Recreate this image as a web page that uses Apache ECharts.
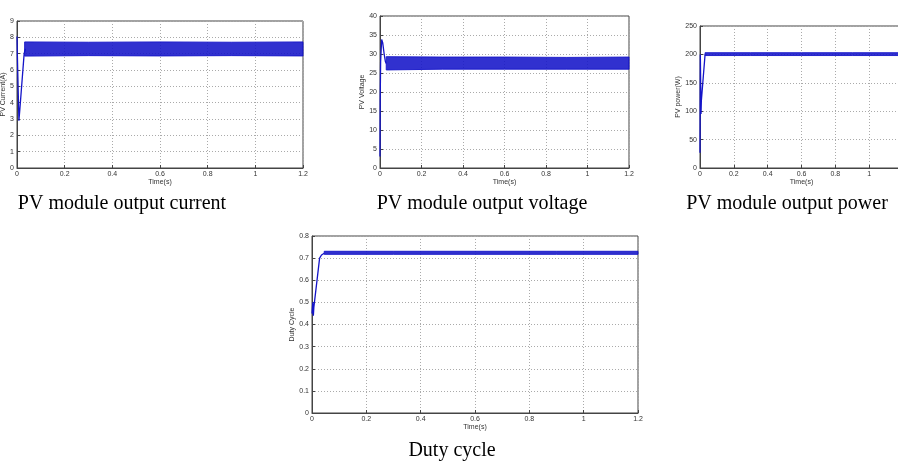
<!DOCTYPE html>
<html>
<head>
<meta charset="utf-8">
<script src="https://cdn.jsdelivr.net/npm/echarts@6/dist/echarts.min.js"></script>
<style>
  html, body { margin: 0; padding: 0; background: #fff; }
  #main { width: 898px; height: 472px; }
</style>
</head>
<body>
<div id="main"></div>
<script>
// PV current (A)
const currentTime = [0, 0.002, 0.008, 0.012, 0.03, 0.035]
const currentValue = [8.05, 6.6, 2.9, 3.6, 7.0, 7.3]
const currentBandTime = [0.032, 0.3, 0.6, 0.9, 1.2]
const currentUpper = [7.72, 7.7, 7.72, 7.7, 7.72]
const currentLower = [6.85, 6.88, 6.86, 6.88, 6.86]

// PV voltage (V)
const voltageTime = [0, 0.001, 0.003, 0.008, 0.013, 0.02, 0.026, 0.03]
const voltageValue = [3, 18, 28, 33.8, 33, 30, 28, 27.5]
const voltageBandTime = [0.03, 0.3, 0.6, 0.9, 1.2]
const voltageUpper = [29.3, 29.2, 29.2, 29.1, 29.2]
const voltageLower = [25.8, 26.0, 26.0, 26.0, 26.0]

// PV power (W)
const powerTime = [0, 0.002, 0.006, 0.008, 0.03]
const powerValue = [27, 200, 95, 118, 200]
const powerBandTime = [0.03, 0.3, 0.6, 0.9, 1.2]
const powerUpper = [203, 203, 203, 203, 203]
const powerLower = [198, 198, 198, 198, 198]

// Duty cycle
const dutyTime = [0, 0.003, 0.005, 0.007, 0.028, 0.035, 0.045]
const dutyValue = [0.45, 0.50, 0.44, 0.48, 0.70, 0.714, 0.722]
const dutyBandTime = [0.045, 0.3, 0.6, 0.9, 1.2]
const dutyUpper = [0.731, 0.731, 0.731, 0.731, 0.731]
const dutyLower = [0.717, 0.717, 0.717, 0.717, 0.717]

const timeTicks = { min: 0, max: 1.2, interval: 0.2 }

const panels = [
  { grid: { left: 17, top: 21, width: 286, height: 147 }, y: { min: 0, max: 9, interval: 1 },
    yName: 'PV Current(A)', yGap: 7, xGap: 9,
    t: currentTime, v: currentValue, bt: currentBandTime, up: currentUpper, lo: currentLower },
  { grid: { left: 380, top: 16, width: 249, height: 152 }, y: { min: 0, max: 40, interval: 5 },
    yName: 'PV Voltage', yGap: 9, xGap: 8,
    t: voltageTime, v: voltageValue, bt: voltageBandTime, up: voltageUpper, lo: voltageLower },
  // this panel is cut off at the right edge of the picture
  { grid: { left: 700, top: 26, width: 203, height: 142 }, y: { min: 0, max: 250, interval: 50 },
    yName: 'PV power(W)', yGap: 12, xGap: 9,
    t: powerTime, v: powerValue, bt: powerBandTime, up: powerUpper, lo: powerLower },
  { grid: { left: 312, top: 236, width: 326, height: 177 }, y: { min: 0, max: 0.8, interval: 0.1 },
    yName: 'Duty Cycle', yGap: 16, xGap: 11,
    t: dutyTime, v: dutyValue, bt: dutyBandTime, up: dutyUpper, lo: dutyLower }
]

const axisColor = '#444'
const blue = '#1414c8'

const grids = []
const xAxes = []
const yAxes = []
const series = []

panels.forEach(function(p, i) {
  grids.push(Object.assign({
    show: true, borderColor: axisColor, borderWidth: 1, backgroundColor: '#fff',
    outerBoundsMode: 'none', containLabel: false
  }, p.grid))
  const common = {
    gridIndex: i,
    type: 'value',
    nameLocation: 'middle',
    nameTextStyle: { fontSize: 7, color: '#333', fontFamily: 'Liberation Sans' },
    axisLine: { show: true, lineStyle: { color: axisColor, width: 1 } },
    axisTick: { show: true, inside: true, length: 3, lineStyle: { color: axisColor } },
    axisLabel: { fontSize: 7, color: '#333', margin: 3, fontFamily: 'Liberation Sans' },
    splitLine: { show: true, lineStyle: { color: '#aaa', type: [1, 2], width: 1 } }
  }
  xAxes.push(Object.assign({}, common, timeTicks, { name: 'Time(s)', nameGap: p.xGap }))
  yAxes.push(Object.assign({}, common, p.y, { name: p.yName, nameGap: p.yGap }))

  // start-up transient
  series.push({
    type: 'line',
    xAxisIndex: i,
    yAxisIndex: i,
    symbol: 'none',
    lineStyle: { color: blue, width: 1.3 },
    data: p.t.map(function(t, k) { return [t, p.v[k]] })
  })

  // steady-state ripple band between lower and upper envelope
  series.push({
    type: 'custom',
    xAxisIndex: i,
    yAxisIndex: i,
    encode: { x: 0, y: [1, 2] },
    data: p.bt.map(function(t, k) { return [t, p.lo[k], p.up[k]] }),
    renderItem: function(params, api) {
      if (params.dataIndex !== 0) return null
      const pts = []
      p.bt.forEach(function(t, k) { pts.push(api.coord([t, p.up[k]])) })
      for (let k = p.bt.length - 1; k >= 0; k--) pts.push(api.coord([p.bt[k], p.lo[k]]))
      return {
        type: 'polygon',
        shape: { points: pts },
        style: { fill: blue, opacity: 0.88, stroke: blue, lineWidth: 1 }
      }
    }
  })
})

const captions = [
  { text: 'PV module output current', x: 122, y: 204 },
  { text: 'PV module output voltage', x: 482, y: 204 },
  { text: 'PV module output power', x: 787, y: 204 },
  { text: 'Duty cycle', x: 452, y: 451 }
]

const chart = echarts.init(document.getElementById('main'))
chart.setOption({
  backgroundColor: '#fff',
  animation: false,
  grid: grids,
  xAxis: xAxes,
  yAxis: yAxes,
  series: series,
  graphic: captions.map(function(c) {
    return {
      type: 'text',
      x: c.x,
      y: c.y,
      style: {
        text: c.text,
        fill: '#000',
        font: '20px "Liberation Serif"',
        textAlign: 'center',
        textVerticalAlign: 'middle'
      }
    }
  })
})
</script>
</body>
</html>
